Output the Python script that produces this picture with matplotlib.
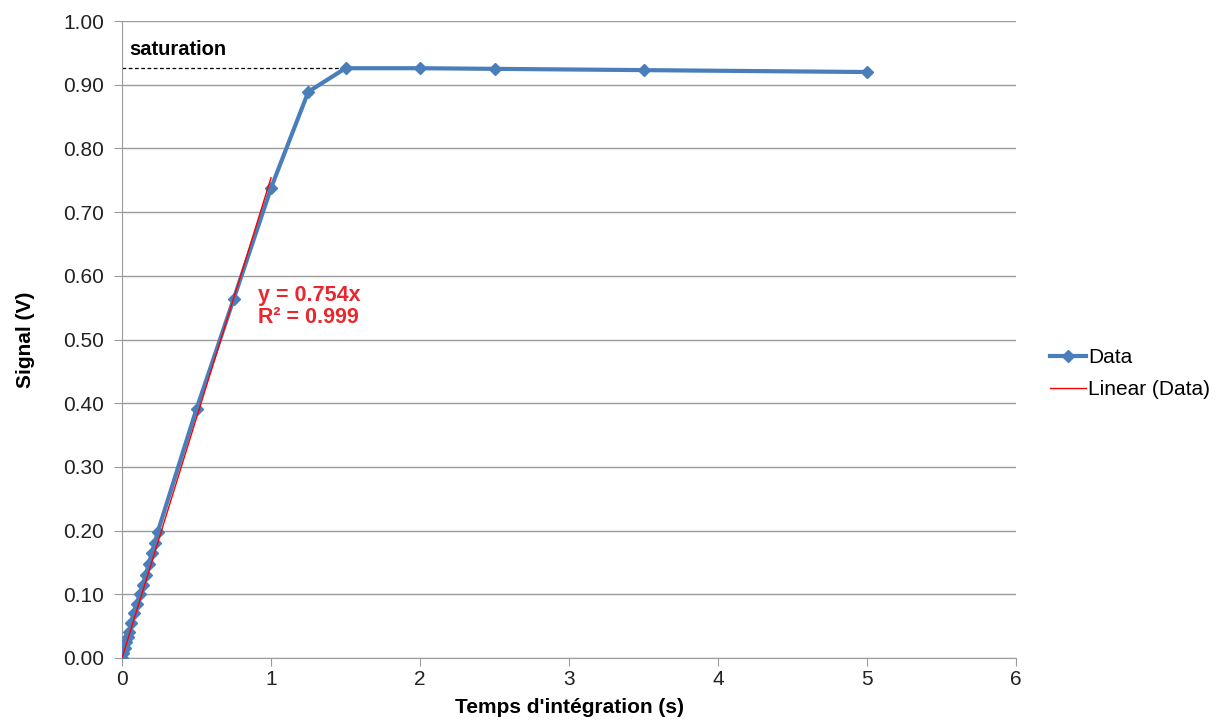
import numpy as np
import matplotlib.pyplot as plt
from matplotlib.ticker import FormatStrFormatter

plt.rcParams['font.family'] = ['Liberation Sans', 'DejaVu Sans']

# integration time (s) and signal (V)
t = [0, 0.01, 0.02, 0.03, 0.04, 0.05, 0.06, 0.08, 0.10, 0.12, 0.14, 0.16,
     0.18, 0.20, 0.22, 0.24, 0.5, 0.75, 1.0, 1.25, 1.5, 2.0, 2.5, 3.5, 5.0]
signal = [0.0, 0.008, 0.016, 0.025, 0.033, 0.040, 0.055, 0.070, 0.085, 0.100,
          0.115, 0.131, 0.148, 0.165, 0.180, 0.198, 0.391, 0.564, 0.738,
          0.889, 0.926, 0.926, 0.925, 0.923, 0.920]
slope = 0.754
fit_x = [0, 1.0]
saturation = 0.927

fig = plt.figure(figsize=(12.2, 7.27), dpi=100)
ax = fig.add_axes([0.1, 0.095, 0.733, 0.876])

ax.plot(t, signal, color='#4a7ebb', lw=3, marker='D', ms=6, label='Data', zorder=3)
fx = np.array(fit_x)
ax.plot(fx, slope * fx, color='#ff0000', lw=1, label='Linear (Data)', zorder=4)
ax.plot([0, 1.5], [saturation, saturation], color='black', lw=0.9, ls=(0, (3, 2)), zorder=2)
ax.text(0.05, 0.94, 'saturation', fontsize=14.5, fontweight='bold', va='bottom')
ax.text(0.91, 0.585, 'y = 0.754x\nR² = 0.999', color='#e8282e', fontsize=15.5,
        fontweight='bold', linespacing=1.05, va='top')

ax.set_xlim(0, 6)
ax.set_ylim(0, 1.0)
ax.set_xticks(range(0, 7))
ax.set_yticks(np.arange(0, 1.01, 0.1))
ax.yaxis.set_major_formatter(FormatStrFormatter('%.2f'))
ax.grid(axis='y', color='#9b9b9b', lw=1)
ax.set_axisbelow(True)
for s in ['top', 'right']:
    ax.spines[s].set_visible(False)
for s in ['left', 'bottom']:
    ax.spines[s].set_color('#9b9b9b')
ax.tick_params(colors='#9b9b9b', labelcolor='#222222', labelsize=15, length=6)
ax.tick_params(axis='y', pad=7)
ax.tick_params(axis='x', pad=3)
ax.set_xlabel("Temps d'intégration (s)", fontsize=15, fontweight='bold', labelpad=6)
ax.set_ylabel('Signal (V)', fontsize=15, fontweight='bold', labelpad=20)

fig.legend(loc='center left', bbox_to_anchor=(0.845, 0.486), frameon=False,
           fontsize=15, handlelength=1.75, labelspacing=0.6, handletextpad=0.1)

fig.savefig('out.png', dpi=100)
